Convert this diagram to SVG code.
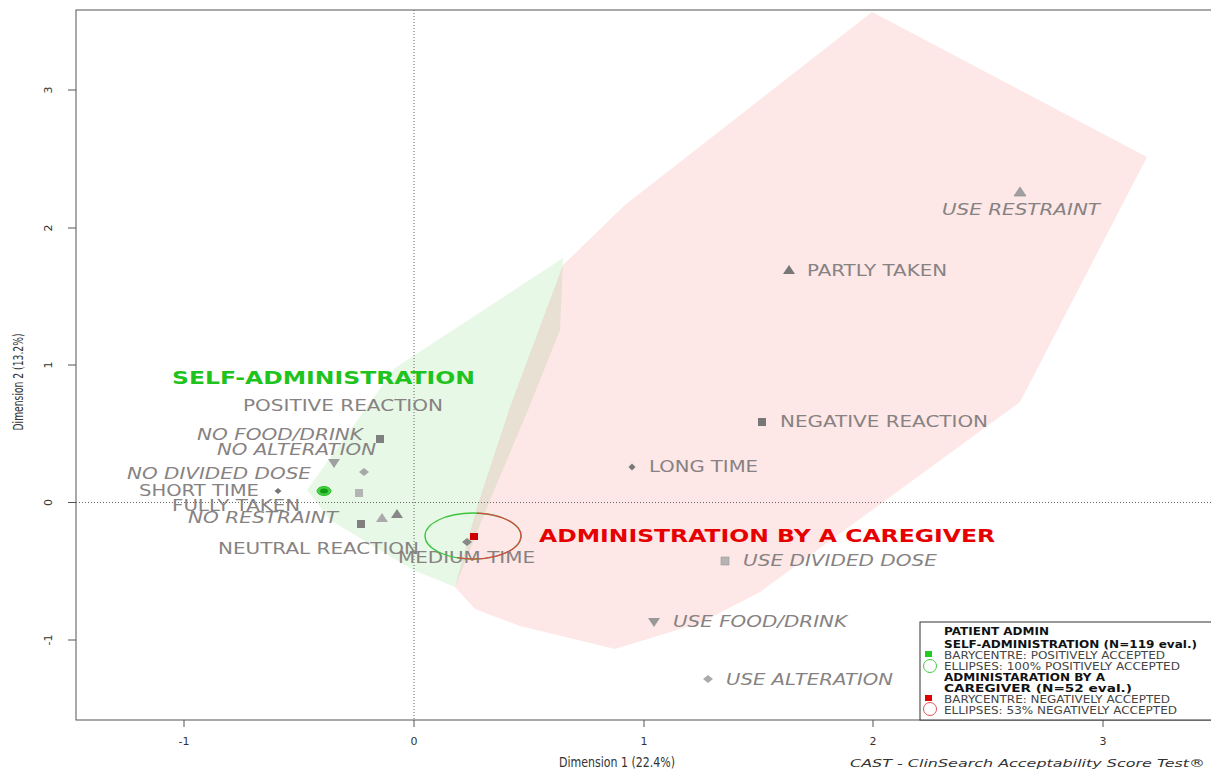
<svg xmlns="http://www.w3.org/2000/svg" xmlns:xlink="http://www.w3.org/1999/xlink" width="1211" height="769" viewBox="0 0 1211 769">
<style>
.lbl{font-family:"DejaVu Sans","Liberation Sans",sans-serif;font-size:16px;fill:#878282;}
.it{font-style:italic;}
.ax{font-family:"DejaVu Sans","Liberation Sans",sans-serif;font-size:11px;fill:#333;}
.lg{font-family:"DejaVu Sans","Liberation Sans",sans-serif;font-size:10.5px;fill:#444;}
.lgb{font-weight:bold;fill:#111;font-size:10.5px;}
.dot{stroke:#666;stroke-width:1;stroke-dasharray:1 2;fill:none;}
</style>
<defs>
<path id="tri" d="M0,-5 L6,4 L-6,4 Z"/>
<path id="itri" d="M-6,-4 L6,-4 L0,5 Z"/>
<rect id="sq" x="-4" y="-4" width="8" height="8"/>
<path id="dia" d="M0,-4 L5,0 L0,4 L-5,0 Z"/>
</defs>
<rect width="1211" height="769" fill="#fff"/>

<g id="hulls">
<path id="hull-self" d="M563,258 L560,330 L528,410 L490,500 L455,587 L413,570 L330,520 L307,490 L395,368 Z" fill="rgb(60,200,60)" fill-opacity="0.12"/>
<path id="hull-caregiver" d="M872,12 L1147,157 L1020,402 L760,592 L700,623 L615,649 L520,626 L475,609 L455,587 L477,507 L510,407 L563,265 L625,205 Z" fill="rgb(240,60,60)" fill-opacity="0.12"/>
</g>

<g id="axes">
<rect x="76" y="10" width="1140" height="710" fill="none" stroke="#555" stroke-width="1"/>
<line class="dot" x1="414" y1="10" x2="414" y2="720"/>
<line class="dot" x1="76" y1="502.5" x2="1211" y2="502.5"/>
<g stroke="#555" stroke-width="1">
<line x1="68" y1="90" x2="76" y2="90"/><line x1="68" y1="228" x2="76" y2="228"/><line x1="68" y1="365" x2="76" y2="365"/><line x1="68" y1="502.5" x2="76" y2="502.5"/><line x1="68" y1="640" x2="76" y2="640"/>
<line x1="184" y1="720" x2="184" y2="727"/><line x1="414" y1="720" x2="414" y2="727"/><line x1="644" y1="720" x2="644" y2="727"/><line x1="873" y1="720" x2="873" y2="727"/><line x1="1103" y1="720" x2="1103" y2="727"/>
</g>
<g class="ax" text-anchor="middle">
<text transform="translate(52,90) rotate(-90)">3</text>
<text transform="translate(52,228) rotate(-90)">2</text>
<text transform="translate(52,365) rotate(-90)">1</text>
<text transform="translate(52,502.5) rotate(-90)">0</text>
<text transform="translate(52,640) rotate(-90)">-1</text>
<text x="184" y="745">-1</text>
<text x="414" y="745">0</text>
<text x="644" y="745">1</text>
<text x="873" y="745">2</text>
<text x="1103" y="745">3</text>
<text transform="translate(23,382) rotate(-90)" font-size="14" textLength="97" lengthAdjust="spacingAndGlyphs">Dimension 2 (13.2%)</text>
<text x="617" y="767" font-size="14" textLength="116" lengthAdjust="spacingAndGlyphs">Dimension 1 (22.4%)</text>
</g>
<text class="ax" x="850" y="767" font-size="14" font-style="italic" textLength="355" lengthAdjust="spacingAndGlyphs">CAST - ClinSearch Acceptability Score Test®</text>
</g>

<g id="connectors"></g>

<g id="group-labels">
<text id="self-admin" x="172" y="384" font-family="'DejaVu Sans','Liberation Sans',sans-serif" font-weight="bold" font-size="17.5" fill="#1ec31e" textLength="303" lengthAdjust="spacingAndGlyphs">SELF-ADMINISTRATION</text>
<text id="caregiver" x="539" y="542" font-family="'DejaVu Sans','Liberation Sans',sans-serif" font-weight="bold" font-size="18" fill="#e60000" textLength="456" lengthAdjust="spacingAndGlyphs">ADMINISTRATION BY A CAREGIVER</text>
</g>

<g id="node-positive-reaction"><text class="lbl" x="243" y="411" textLength="200" lengthAdjust="spacingAndGlyphs">POSITIVE REACTION</text></g>
<g id="node-no-food-drink"><use href="#sq" x="380" y="439" fill="#808080"/><text class="lbl it" x="197" y="440" textLength="166" lengthAdjust="spacingAndGlyphs">NO FOOD/DRINK</text></g>
<g id="node-no-alteration"><use href="#itri" x="334" y="463" fill="#a0a0a0"/><text class="lbl it" x="217" y="455" textLength="159" lengthAdjust="spacingAndGlyphs">NO ALTERATION</text></g>
<g id="node-no-divided-dose"><use href="#dia" x="364" y="472" fill="#a8a8a8"/><text class="lbl it" x="127" y="479" textLength="184" lengthAdjust="spacingAndGlyphs">NO DIVIDED DOSE</text></g>
<g id="node-short-time"><path d="M278,488 L281.5,491 L278,494 L274.5,491 Z" fill="#777"/><text class="lbl" x="139" y="496" textLength="120" lengthAdjust="spacingAndGlyphs">SHORT TIME</text></g>
<g id="node-fully-taken"><use href="#sq" x="359" y="493" fill="#b4b4b4"/><text class="lbl" x="172" y="511" textLength="128" lengthAdjust="spacingAndGlyphs">FULLY TAKEN</text></g>
<g id="node-no-restraint"><use href="#sq" x="361" y="524" fill="#808080"/><use href="#tri" x="382" y="518" fill="#aaaaaa"/><use href="#tri" x="397" y="514" fill="#888888"/><text class="lbl it" x="188" y="523" textLength="150" lengthAdjust="spacingAndGlyphs">NO RESTRAINT</text></g>
<g id="node-neutral-reaction"><text class="lbl" x="218" y="554" textLength="201" lengthAdjust="spacingAndGlyphs">NEUTRAL REACTION</text></g>
<g id="node-barycentre-self"><ellipse cx="324" cy="491" rx="7" ry="4.5" fill="#44d044" stroke="#2bbf2b" stroke-width="1"/><ellipse cx="324" cy="491" rx="4" ry="2.5" fill="#139a13"/></g>

<g id="node-medium-time"><use href="#dia" x="467" y="542" fill="#888"/><text class="lbl" x="398" y="563" textLength="137" lengthAdjust="spacingAndGlyphs">MEDIUM TIME</text></g>
<g id="node-barycentre-caregiver">
<ellipse cx="473" cy="536" rx="48" ry="23" fill="none" stroke="#3cc43c" stroke-width="1.3"/>
<path d="M477,513.1 A48,23 0 1 1 457,557.7" fill="none" stroke="#d84848" stroke-width="1.3"/>
<rect x="470" y="533" width="8" height="7" fill="#d00000"/>
</g>
<g id="node-long-time"><path d="M632,463.5 L635.5,467 L632,470.5 L628.5,467 Z" fill="#777"/><text class="lbl" x="649" y="472" textLength="109" lengthAdjust="spacingAndGlyphs">LONG TIME</text></g>
<g id="node-negative-reaction"><use href="#sq" x="762" y="422" fill="#777"/><text class="lbl" x="780" y="427" textLength="208" lengthAdjust="spacingAndGlyphs">NEGATIVE REACTION</text></g>
<g id="node-partly-taken"><use href="#tri" x="789" y="270" fill="#777"/><text class="lbl" x="807" y="276" textLength="140" lengthAdjust="spacingAndGlyphs">PARTLY TAKEN</text></g>
<g id="node-use-restraint"><use href="#tri" x="1020" y="192" fill="#a0a0a0" stroke="#888" stroke-width="0.6"/><text class="lbl it" x="942" y="215" textLength="158" lengthAdjust="spacingAndGlyphs">USE RESTRAINT</text></g>
<g id="node-use-divided-dose"><use href="#sq" x="725" y="561" fill="#b4b4b4" stroke="#999" stroke-width="0.6"/><text class="lbl it" x="743" y="566" textLength="194" lengthAdjust="spacingAndGlyphs">USE DIVIDED DOSE</text></g>
<g id="node-use-food-drink"><use href="#itri" x="654" y="622" fill="#999"/><text class="lbl it" x="673" y="627" textLength="174" lengthAdjust="spacingAndGlyphs">USE FOOD/DRINK</text></g>
<g id="node-use-alteration"><use href="#dia" x="708" y="679" fill="#aaa"/><text class="lbl it" x="726" y="685" textLength="167" lengthAdjust="spacingAndGlyphs">USE ALTERATION</text></g>

<g id="legend">
<rect x="920" y="622" width="300" height="98" fill="#fff" stroke="#333" stroke-width="1"/>
<text class="lg lgb" x="944" y="635" textLength="105" lengthAdjust="spacingAndGlyphs">PATIENT ADMIN</text>
<text class="lg lgb" x="944" y="647.5" textLength="253" lengthAdjust="spacingAndGlyphs">SELF-ADMINISTRATION (N=119 eval.)</text>
<rect x="925" y="651" width="7" height="6" fill="#22cc22"/>
<text class="lg" x="944" y="659" textLength="221" lengthAdjust="spacingAndGlyphs">BARYCENTRE: POSITIVELY ACCEPTED</text>
<circle cx="930" cy="666" r="6.5" fill="none" stroke="#44cc44" stroke-width="1"/>
<text class="lg" x="944" y="670" textLength="236" lengthAdjust="spacingAndGlyphs">ELLIPSES: 100% POSITIVELY ACCEPTED</text>
<text class="lg lgb" x="944" y="681" textLength="161" lengthAdjust="spacingAndGlyphs">ADMINISTARATION BY A</text>
<text class="lg lgb" x="944" y="691.5" textLength="188" lengthAdjust="spacingAndGlyphs">CAREGIVER (N=52 eval.)</text>
<rect x="925" y="695" width="7" height="6" fill="#e00000"/>
<text class="lg" x="944" y="702.5" textLength="226" lengthAdjust="spacingAndGlyphs">BARYCENTRE: NEGATIVELY ACCEPTED</text>
<circle cx="930" cy="709" r="6.5" fill="none" stroke="#dd5555" stroke-width="1"/>
<text class="lg" x="944" y="713.5" textLength="233" lengthAdjust="spacingAndGlyphs">ELLIPSES: 53% NEGATIVELY ACCEPTED</text>
</g>
</svg>
